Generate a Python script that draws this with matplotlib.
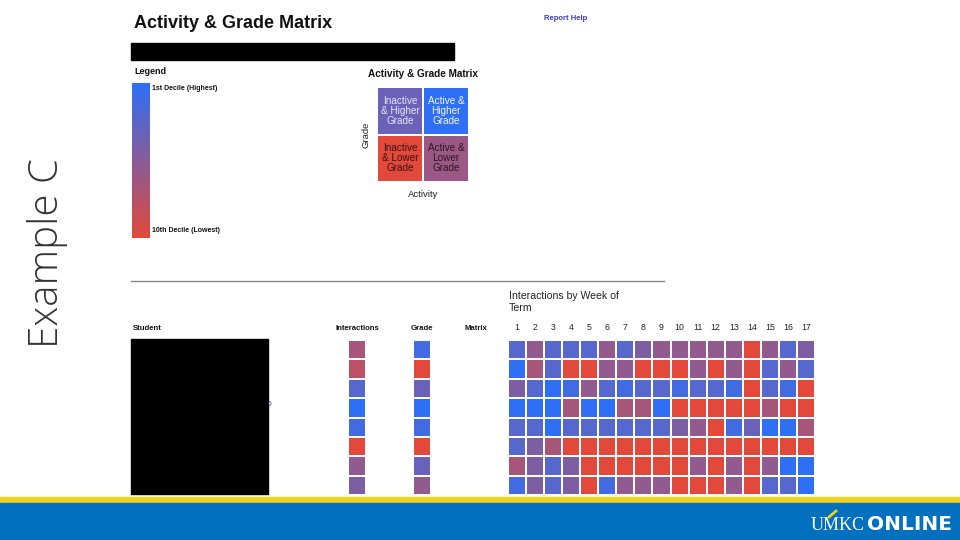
import numpy as np
import matplotlib
matplotlib.use("Agg")
import matplotlib.pyplot as plt
from matplotlib.colors import LinearSegmentedColormap
from matplotlib.patches import Rectangle
from matplotlib import font_manager

# ---------------- data (deciles: 1 = highest, 10 = lowest) ----------------
weeks = list(range(1, 18))
interactions = [7, 8, 3, 1, 2, 10, 6, 5]
grades = [2, 10, 4, 1, 2, 10, 4, 6]
week_r1 = [3, 6, 3, 3, 3, 6, 3, 5, 6, 6, 6, 6, 6, 10, 6, 3, 5]
week_r2 = [1, 7, 3, 10, 10, 6, 6, 10, 10, 10, 6, 10, 6, 10, 3, 6, 3]
week_r3 = [5, 3, 1, 2, 6, 3, 2, 3, 3, 2, 3, 3, 2, 10, 3, 2, 10]
week_r4 = [1, 1, 1, 7, 1, 1, 7, 7, 1, 10, 10, 10, 10, 10, 7, 10, 10]
week_r5 = [3, 3, 1, 3, 3, 3, 3, 3, 3, 5, 6, 10, 2, 4, 1, 1, 7]
week_r6 = [3, 5, 7, 10, 10, 10, 10, 10, 10, 10, 10, 10, 10, 10, 10, 10, 10]
week_r7 = [7, 5, 3, 5, 10, 10, 10, 10, 10, 10, 6, 10, 6, 10, 6, 1, 1]
week_r8 = [2, 5, 3, 5, 10, 2, 6, 6, 6, 10, 10, 10, 6, 10, 3, 3, 1]
matrix_labels = [["Inactive\n& Higher\nGrade", "Active &\nHigher\nGrade"],
                 ["Inactive\n& Lower\nGrade", "Active &\nLower\nGrade"]]
matrix_deciles = [[4, 1], [10, 6.5]]
legend_top = "1st Decile (Highest)"
legend_bottom = "10th Decile (Lowest)"

weekly = np.array([week_r1, week_r2, week_r3, week_r4,
                   week_r5, week_r6, week_r7, week_r8])

W, H = 960, 540
FONT = "Liberation Sans"
installed = {f.name for f in font_manager.fontManager.ttflist}
NARROW = "Liberation Sans Narrow" if "Liberation Sans Narrow" in installed else "DejaVu Sans"
cmap = LinearSegmentedColormap.from_list("dec", ["#2e6ff6", "#e2493b"])

fig = plt.figure(figsize=(W / 100, H / 100), dpi=100)
fig.patch.set_facecolor("white")


def px_axes(x0, y0, x1, y1, **kw):
    return fig.add_axes([x0 / W, 1 - y1 / H, (x1 - x0) / W, (y1 - y0) / H], **kw)


# background / annotation layer
bg = px_axes(0, 0, W, H)
bg.set_xlim(0, W)
bg.set_ylim(H, 0)
bg.axis("off")

# bottom banner
bg.add_patch(Rectangle((0, 497), W, 7, color="#f0d21c", zorder=1))
bg.add_patch(Rectangle((0, 503), W, 37, color="#0070bf", zorder=2))
bg.text(838, 526, "UMKC", color="white", fontsize=13, family="Liberation Serif",
        ha="center", va="center", zorder=3)
bg.text(909, 524, "ONLINE", color="white",
        fontsize=18 if NARROW != "DejaVu Sans" else 14.5, family=NARROW,
        fontweight="bold", ha="center", va="center", zorder=3)
bg.plot([829, 836], [517, 511], color="#f0d21c", lw=2, zorder=3)

# side label
bg.text(48, 253, "Example C", rotation=90, fontsize=29, family="Open Sans",
        fontweight="light", color="#333333", ha="center", va="center")

# header
bg.text(134, 24, "Activity & Grade Matrix", fontsize=13, family=FONT,
        fontweight="bold", color="#111111", ha="left", va="center")
bg.text(544, 18, "Report Help", fontsize=5.5, family=FONT, fontweight="bold",
        color="#3c3cc8", ha="left", va="center")
bg.add_patch(Rectangle((131, 43), 323, 17, color="black"))

# legend texts
bg.text(134, 72, "Legend", fontsize=6.5, family=FONT, fontweight="bold",
        color="#111111", ha="left", va="center")
bg.text(152, 89, legend_top, fontsize=5, family=FONT, fontweight="bold",
        color="#111111", ha="left", va="center")
bg.text(152, 231, legend_bottom, fontsize=5, family=FONT, fontweight="bold",
        color="#111111", ha="left", va="center")

# separator line
bg.plot([131, 664], [281, 281], color="#888888", lw=1)

# table headers
for x, s, ha in [(133, "Student", "left"), (357, "Interactions", "center"),
                 (422, "Grade", "center"), (476, "Matrix", "center")]:
    bg.text(x, 329, s, fontsize=5.6, family=FONT, fontweight="bold",
            color="#111111", ha=ha, va="center")
bg.text(509, 302, "Interactions by Week of\nTerm", fontsize=7.6, family=FONT,
        color="#222222", ha="left", va="center", linespacing=1.35)

# student redaction box
bg.text(269, 405, "0", fontsize=6, family=FONT, color="#4a4ab8", ha="center", va="center")
bg.add_patch(Rectangle((131, 339), 137, 155, color="black", zorder=4))

# legend gradient
lg = px_axes(132, 83, 150, 238)
lg.imshow(np.linspace(1, 10, 200).reshape(-1, 1), cmap=cmap, vmin=1, vmax=10,
          aspect="auto", interpolation="bilinear")
lg.axis("off")

# matrix explanation
mx = px_axes(377, 87, 469, 182)
mx.pcolormesh(np.array(matrix_deciles), cmap=cmap, vmin=1, vmax=10,
              edgecolors="white", linewidth=1.2)
mx.set_xlim(0, 2)
mx.set_ylim(2, 0)
txt_colors = [["#e6e4f6", "#f4f6ff"], ["#3a1414", "#2c1628"]]
for i in range(2):
    for j in range(2):
        mx.text(j + 0.5, i + 0.5, matrix_labels[i][j], ha="center", va="center",
                fontsize=7.2, family=FONT, color=txt_colors[i][j], linespacing=1.0)
mx.set_xticks([])
mx.set_yticks([])
for s in mx.spines.values():
    s.set_visible(False)
mx.set_title("Activity & Grade Matrix", fontsize=7.2, family=FONT,
             fontweight="bold", pad=7, color="#111111")
mx.set_xlabel("Activity", fontsize=6.8, family=FONT, labelpad=6, color="#222222")
mx.set_ylabel("Grade", fontsize=6.8, family=FONT, labelpad=5, color="#222222")


def column_axes(x0, x1, values):
    ax = px_axes(x0, 340, x1, 495)
    ax.pcolormesh(np.array(values).reshape(-1, 1), cmap=cmap, vmin=1, vmax=10,
                  edgecolors="white", linewidth=1.2)
    ax.set_ylim(len(values), 0)
    ax.axis("off")
    return ax


column_axes(348, 366, interactions)
column_axes(413, 431, grades)

# weekly heatmap
hm = px_axes(508, 340, 815, 495)
hm.pcolormesh(weekly, cmap=cmap, vmin=1, vmax=10, edgecolors="white", linewidth=1.2)
hm.set_ylim(weekly.shape[0], 0)
hm.set_xlim(0, weekly.shape[1])
hm.xaxis.tick_top()
hm.set_xticks(np.arange(len(weeks)) + 0.5, labels=[str(w) for w in weeks])
hm.tick_params(axis="x", length=0, pad=6, labelsize=6.3)
for lbl in hm.get_xticklabels():
    lbl.set_family(FONT)
    lbl.set_color("#222222")
hm.set_yticks([])
for s in hm.spines.values():
    s.set_visible(False)

fig.savefig("out.png", dpi=100)
